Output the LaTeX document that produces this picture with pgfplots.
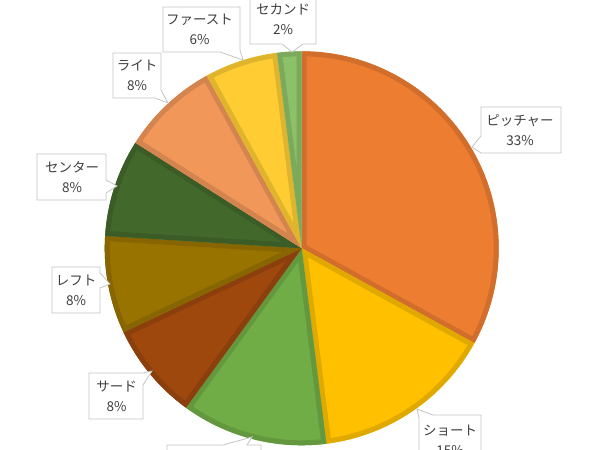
\documentclass[border=0pt]{standalone}
\usepackage{fontspec}
\newfontfamily\jp{Noto Sans CJK JP}
\usepackage{pgfplots}
\pgfplotsset{compat=1.18}
\usepackage{pgfplotstable}

\definecolor{cP}{HTML}{ED7D31}
\definecolor{cS}{HTML}{FFC000}
\definecolor{cC}{HTML}{70AD47}
\definecolor{cT}{HTML}{9E480E}
\definecolor{cL}{HTML}{997300}
\definecolor{cCe}{HTML}{43682B}
\definecolor{cR}{HTML}{F1975A}
\definecolor{cF}{HTML}{FFCD33}
\definecolor{cSe}{HTML}{8CC168}
\definecolor{labgray}{HTML}{404040}
\definecolor{boxgray}{HTML}{C4C4C4}

\tikzset{
  lbl/.style={align=center, font=\jp\fontsize{13.5bp}{20bp}\selectfont, text=labgray, inner sep=0pt},
  co/.style={draw=boxgray, fill=white, line width=0.8bp, line join=miter},
}

\begin{document}
% share of each position (percent), clockwise from the top
\pgfplotstableread{
pct col
33 cP
15 cS
12 cC
8 cT
8 cL
8 cCe
8 cR
6 cF
2 cSe
}\pietable
\begin{tikzpicture}
\begin{axis}[
    x=1bp, y=1bp,
    xmin=0, xmax=610, ymin=0, ymax=450,
    hide axis, clip=true,
]
% keep the whole frame in the picture
\path (axis cs:0,0) rectangle (axis cs:610,450);

\pgfplotsextra{%
  \def\cx{301.7}\def\cy{201.7}\def\rr{197}%
  \pgfmathsetmacro\acc{90}%
  \pgfplotsforeachungrouped \k in {0,...,8}{%
    \pgfplotstablegetelem{\k}{pct}\of\pietable \let\wpct\pgfplotsretval
    \pgfplotstablegetelem{\k}{col}\of\pietable \let\wcol\pgfplotsretval
    \pgfmathsetmacro\aend{\acc-3.6*\wpct}%
    \fill[\wcol] (axis cs:\cx,\cy) -- ++(\acc:\rr bp)
      arc[start angle=\acc, end angle=\aend, radius=\rr bp] -- cycle;
    \begin{scope}
      \clip (axis cs:\cx,\cy) -- ++(\acc:\rr bp)
        arc[start angle=\acc, end angle=\aend, radius=\rr bp] -- cycle;
      \draw[\wcol!88!black, line width=10bp, line join=round]
        (axis cs:\cx,\cy) -- ++(\acc:\rr bp)
        arc[start angle=\acc, end angle=\aend, radius=\rr bp] -- cycle;
    \end{scope}
    \let\acc\aend
  }%
}

% callouts
\draw[co] (481,343) -- (561,343) -- (561,297) -- (481,297) -- (472,303) -- (481,314) -- cycle;
\node[lbl] at (520,320) {ピッチャー\\33\%};

\draw[co] (419,0) -- (419,32) -- (417,41) -- (433,35) -- (481,35) -- (481,0);
\node[lbl] at (450,10) {ショート\\15\%};

\draw[co] (167,0) -- (167,5) -- (223,5) -- (252,13) -- (247,5) -- (261,5) -- (261,0);

\draw[co] (89,77) -- (143,77) -- (152,79) -- (143,65) -- (143,31) -- (89,31) -- cycle;
\node[lbl] at (116.5,54) {サード\\8\%};

\draw[co] (52,183) -- (100,183) -- (100,177) -- (110,166) -- (100,162) -- (100,137) -- (52,137) -- cycle;
\node[lbl] at (76,160) {レフト\\8\%};

\draw[co] (37,296) -- (106,296) -- (106,270) -- (117,264) -- (106,257) -- (106,250) -- (37,250) -- cycle;
\node[lbl] at (72,273) {センター\\8\%};

\draw[co] (113,397) -- (161,397) -- (161,360) -- (168,347) -- (155,352) -- (113,352) -- cycle;
\node[lbl] at (137,374.5) {ライト\\8\%};

\draw[co] (163,443) -- (240,443) -- (240,400) -- (243,390) -- (220,398) -- (163,398) -- cycle;
\node[lbl] at (199.5,420.5) {ファースト\\6\%};

\draw[co] (250,450) -- (250,406) -- (282,406) -- (292,398) -- (303,406) -- (316,406) -- (316,450);
\node[lbl] at (283,431) {セカンド\\2\%};
\end{axis}
\end{tikzpicture}
\end{document}
